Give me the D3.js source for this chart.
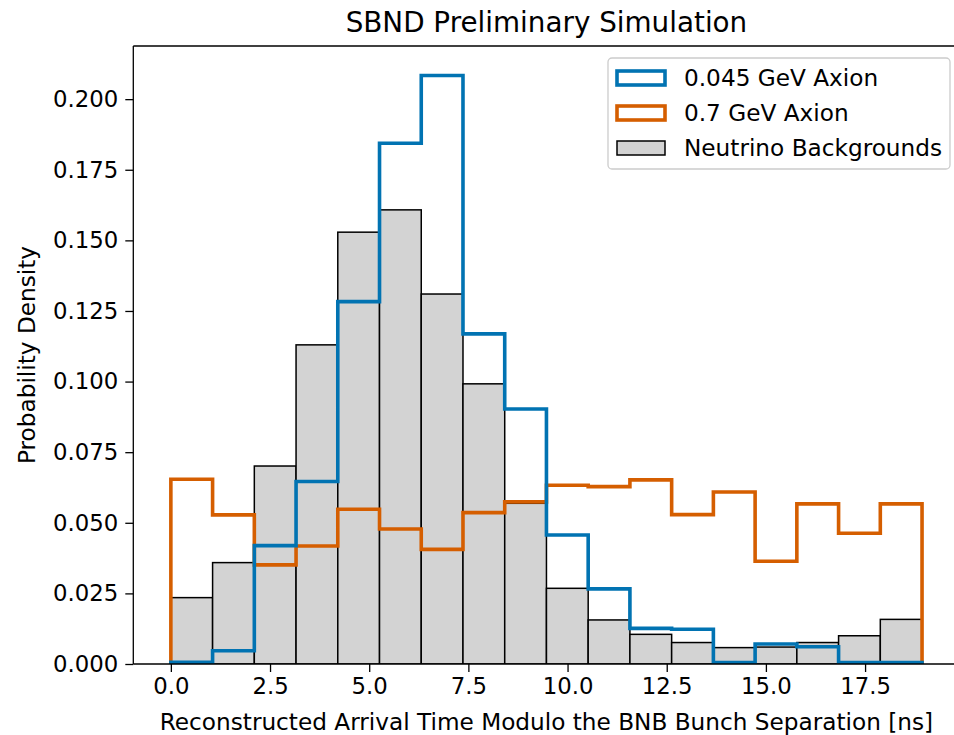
<!DOCTYPE html>
<html>
<head>
<meta charset="utf-8">
<script src="https://cdn.jsdelivr.net/npm/d3@7"></script>
<style>
  html, body { margin: 0; padding: 0; background: #fff; }
  svg { display: block; }
  text { font-family: "DejaVu Sans", sans-serif; fill: #000; }
</style>
</head>
<body>
<svg id="chart" width="954" height="735"></svg>
<script>
// ---- Data ----
const binStart = 0;
const binEnd = 18.936;           // BNB bunch separation [ns]
const nBins = 18;

const neutrinoBackgrounds = [0.0235, 0.0359, 0.0701, 0.1130, 0.1529, 0.1608, 0.1310, 0.0992, 0.0569,
                             0.0268, 0.0156, 0.0105, 0.0076, 0.0058, 0.0060, 0.0076, 0.0100, 0.0158];
const axion045 = [0.0006, 0.0047, 0.0419, 0.0646, 0.1283, 0.1844, 0.2084, 0.1169, 0.0903,
                  0.0457, 0.0266, 0.0126, 0.0123, 0.0005, 0.0071, 0.0061, 0.0005, 0.0005];
const axion07 = [0.0654, 0.0528, 0.0351, 0.0418, 0.0548, 0.0478, 0.0406, 0.0536, 0.0574,
                 0.0633, 0.0628, 0.0652, 0.0529, 0.0609, 0.0364, 0.0567, 0.0463, 0.0567];

const xTicks = [0, 2.5, 5, 7.5, 10, 12.5, 15, 17.5];
const yTicks = [0, 0.025, 0.05, 0.075, 0.1, 0.125, 0.15, 0.175, 0.2];

const legendLabels = ["0.045 GeV Axion", "0.7 GeV Axion", "Neutrino Backgrounds"];
const titleText = "SBND Preliminary Simulation";
const xLabelText = "Reconstructed Arrival Time Modulo the BNB Bunch Separation [ns]";
const yLabelText = "Probability Density";

// ---- Styles ----
const blue = "#0173b2";
const orange = "#d55e00";
const grayFill = "#d3d3d3";

// ---- Layout ----
const svg = d3.select("#chart");
const plot = { left: 133.3, right: 959.6, top: 46, bottom: 664 };

const binW = (binEnd - binStart) / nBins;
const edges = d3.range(nBins + 1).map(i => binStart + i * binW);
const margin = 0.05 * (binEnd - binStart);
const yMax = d3.max([...axion045, ...axion07, ...neutrinoBackgrounds]) * 1.05;

const x = d3.scaleLinear().domain([binStart - margin, binEnd + margin]).range([plot.left, plot.right]);
const y = d3.scaleLinear().domain([0, yMax]).range([plot.bottom, plot.top]);

svg.append("defs").append("clipPath").attr("id", "clip")
  .append("rect").attr("x", plot.left).attr("y", plot.top)
  .attr("width", plot.right - plot.left).attr("height", plot.bottom - plot.top);

const g = svg.append("g").attr("clip-path", "url(#clip)");

// Gray bars (neutrino backgrounds)
g.selectAll("rect.bg").data(neutrinoBackgrounds).enter().append("rect")
  .attr("class", "bg")
  .attr("x", (d, i) => x(edges[i]))
  .attr("width", (d, i) => x(edges[i + 1]) - x(edges[i]))
  .attr("y", d => y(d))
  .attr("height", d => y(0) - y(d))
  .attr("fill", grayFill)
  .attr("stroke", "#000")
  .attr("stroke-width", 1.5);

function stepPath(vals) {
  const pts = [[edges[0], 0]];
  vals.forEach((v, i) => { pts.push([edges[i], v]); pts.push([edges[i + 1], v]); });
  pts.push([edges[vals.length], 0]);
  return d3.line().x(p => x(p[0])).y(p => y(p[1]))(pts);
}

g.append("path").attr("d", stepPath(axion07))
  .attr("fill", "none").attr("stroke", orange).attr("stroke-width", 3.6)
  .attr("stroke-linejoin", "miter");
g.append("path").attr("d", stepPath(axion045))
  .attr("fill", "none").attr("stroke", blue).attr("stroke-width", 3.6)
  .attr("stroke-linejoin", "miter");

// ---- Axes ----
const tickSize = 22.8;
const fontSize = 23.2;
const xAxis = svg.append("g").attr("transform", `translate(0,${plot.bottom})`)
  .call(d3.axisBottom(x).tickValues(xTicks).tickFormat(d3.format(".1f")).tickSize(8).tickPadding(6));
const yAxis = svg.append("g").attr("transform", `translate(${plot.left},0)`)
  .call(d3.axisLeft(y).tickValues(yTicks).tickFormat(d3.format(".3f")).tickSize(8).tickPadding(7));

[xAxis, yAxis].forEach(ax => {
  ax.select(".domain").remove();
  ax.selectAll(".tick line").attr("stroke", "#000").attr("stroke-width", 1.3);
  ax.selectAll(".tick text").attr("font-size", tickSize).attr("font-family", "DejaVu Sans").attr("fill", "#000");
});

// spines
const spine = svg.append("g").attr("stroke", "#000").attr("stroke-width", 1.3).attr("fill", "none");
spine.append("line").attr("x1", plot.left).attr("x2", plot.left).attr("y1", plot.top).attr("y2", plot.bottom);
spine.append("line").attr("x1", plot.left).attr("x2", plot.right).attr("y1", plot.bottom).attr("y2", plot.bottom);
spine.append("line").attr("x1", plot.left).attr("x2", plot.right).attr("y1", plot.top).attr("y2", plot.top);
spine.append("line").attr("x1", plot.right).attr("x2", plot.right).attr("y1", plot.top).attr("y2", plot.bottom);

// Labels
const cx = (plot.left + plot.right) / 2;
svg.append("text").attr("x", cx).attr("y", 32).attr("text-anchor", "middle")
  .attr("font-size", 27.8).text(titleText);
svg.append("text").attr("x", cx).attr("y", 730).attr("text-anchor", "middle")
  .attr("font-size", fontSize).text(xLabelText);
svg.append("text").attr("transform", `translate(34.5,${(plot.top + plot.bottom) / 2}) rotate(-90)`)
  .attr("text-anchor", "middle").attr("font-size", fontSize).text(yLabelText);

// ---- Legend ----
const leg = svg.append("g");
leg.append("rect").attr("x", 608).attr("y", 58).attr("width", 342).attr("height", 111)
  .attr("rx", 4).attr("fill", "#fff").attr("fill-opacity", 0.8)
  .attr("stroke", "#cccccc").attr("stroke-width", 1.3);
const legStyles = [
  { fill: "none", stroke: blue, sw: 3.6 },
  { fill: "none", stroke: orange, sw: 3.6 },
  { fill: grayFill, stroke: "#000", sw: 1.5 }
];
legendLabels.forEach((lab, i) => {
  const cy = 78 + i * 35;
  const s = legStyles[i];
  leg.append("rect").attr("x", 617).attr("y", cy - 7).attr("width", 48).attr("height", 14)
    .attr("fill", s.fill).attr("stroke", s.stroke).attr("stroke-width", s.sw);
  leg.append("text").attr("x", 684).attr("y", cy + 8).attr("font-size", fontSize).text(lab);
});
</script>
</body>
</html>
